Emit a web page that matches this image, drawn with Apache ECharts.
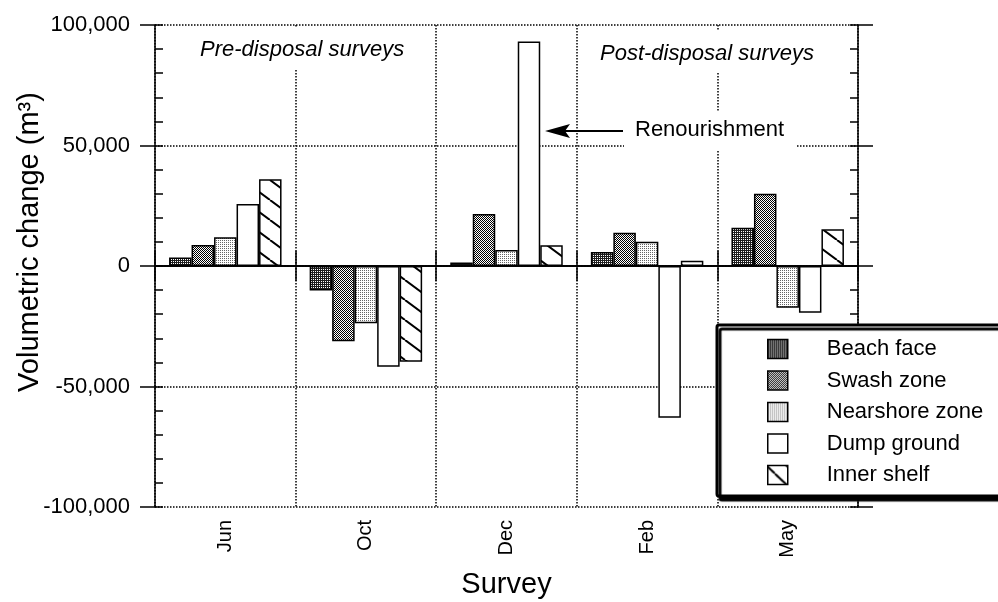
<!DOCTYPE html>
<html>
<head>
<meta charset="utf-8">
<script src="https://cdn.jsdelivr.net/npm/echarts@6/dist/echarts.min.js"></script>
<style>
  html, body { margin: 0; padding: 0; background: #fff; }
  #chart { width: 998px; height: 602px; }
</style>
</head>
<body>
<div id="chart"></div>
<script>
// survey months
var surveys = ['Jun', 'Oct', 'Dec', 'Feb', 'May'];
// volumetric change per zone, m3
var beachFace = [3500, -10200, 1500, 5800, 15900];
var swashZone = [8700, -31200, 21600, 13800, 30000];
var nearshoreZone = [11900, -23800, 6600, 10100, -17300];
var dumpGround = [25700, -41800, 93200, -63000, -19400];
var innerShelf = [36000, -39700, 8600, 2200, 15200];
var yTicks = [-100000, -50000, 0, 50000, 100000];

var FONT = '"Liberation Sans", Arial, sans-serif';

// little canvas tiles for the fill patterns
function tile(w, h, draw) {
  var c = document.createElement('canvas');
  c.width = w; c.height = h;
  var ctx = c.getContext('2d');
  draw(ctx, w, h);
  return { image: c, repeat: 'repeat' };
}
var patBeach = tile(2, 2, function (ctx) {
  ctx.fillStyle = '#1e1e1e'; ctx.fillRect(0, 0, 2, 2);
  ctx.fillStyle = '#ffffff'; ctx.fillRect(1, 1, 1, 1);
});
var patSwash = tile(2, 2, function (ctx) {
  ctx.fillStyle = '#ffffff'; ctx.fillRect(0, 0, 2, 2);
  ctx.fillStyle = '#000000'; ctx.fillRect(0, 0, 1, 1); ctx.fillRect(1, 1, 1, 1);
});
var patNear = tile(2, 2, function (ctx) {
  ctx.fillStyle = '#ffffff'; ctx.fillRect(0, 0, 2, 2);
  ctx.fillStyle = '#666666'; ctx.fillRect(0, 0, 1, 1);
});
function hatch(w, h) {
  return tile(w, h, function (ctx) {
    ctx.fillStyle = '#fff'; ctx.fillRect(0, 0, w, h);
    ctx.strokeStyle = '#000'; ctx.lineWidth = 2;
    ctx.beginPath();
    ctx.moveTo(0, 0); ctx.lineTo(w, h);
    ctx.moveTo(-w, 0); ctx.lineTo(0, h);
    ctx.moveTo(w, 0); ctx.lineTo(2 * w, h);
    ctx.stroke();
  });
}
var patInner = hatch(27, 20);
var patInnerIcon = hatch(20, 19);
patInnerIcon.x = 767; patInnerIcon.y = 464;

function bar(name, data, fill) {
  return {
    name: name, type: 'bar', data: data,
    barGap: '0%', barCategoryGap: '20%',
    itemStyle: { color: fill, borderColor: '#000', borderWidth: 1.5 },
    z: 3
  };
}

var series = [
  bar('Beach face', beachFace, patBeach),
  bar('Swash zone', swashZone, patSwash),
  bar('Nearshore zone', nearshoreZone, patNear),
  bar('Dump ground', dumpGround, '#ffffff'),
  bar('Inner shelf', innerShelf, patInner)
];
// solid zero line
series[0].markLine = {
  silent: true, symbol: 'none', label: { show: false },
  lineStyle: { color: '#000', type: 'solid', width: 1.5 },
  data: [{ yAxis: 0 }], z: 4
};

var blackLine = { show: true, lineStyle: { color: '#000', width: 1.5 } };

var myChart = echarts.init(document.getElementById('chart'));
myChart.setOption({
  animation: false,
  textStyle: { fontFamily: FONT, color: '#000' },
  grid: { left: 155, right: 140, top: 25, bottom: 95, outerBoundsMode: 'none', containLabel: false },
  legend: {
    left: 717, top: 325,
    orient: 'vertical',
    padding: [13, 20, 10, 50],
    itemWidth: 20, itemHeight: 19, itemGap: 9.5,
    backgroundColor: '#fff',
    borderColor: '#000', borderWidth: 3, borderRadius: 2,
    shadowColor: '#000', shadowBlur: 1, shadowOffsetX: 3, shadowOffsetY: 4,
    icon: 'rect',
    itemStyle: { borderColor: '#000', borderWidth: 1.5 },
    textStyle: { fontSize: 22, fontFamily: FONT, color: '#000', lineHeight: 22, padding: [0, 0, 0, 34] },
    data: [
      'Beach face', 'Swash zone', 'Nearshore zone', 'Dump ground',
      { name: 'Inner shelf', itemStyle: { color: patInnerIcon } }
    ],
    z: 10
  },
  xAxis: [
    {
      type: 'category', data: surveys, position: 'bottom',
      name: 'Survey', nameLocation: 'middle', nameGap: 63, nameMoveOverlap: false,
      nameTextStyle: { fontSize: 29, fontFamily: FONT, color: '#000' },
      axisLine: blackLine,
      axisTick: { show: true, alignWithLabel: false, length: 15, lineStyle: { color: '#000', width: 1.5 } },
      axisLabel: { rotate: 90, fontSize: 20, margin: 13, color: '#000', fontFamily: FONT },
      splitLine: { show: true, lineStyle: { color: '#000', type: 'dotted', width: 1.5 } }
    },
    {
      type: 'category', data: surveys, position: 'top',
      axisLine: blackLine,
      axisTick: { show: true, length: 15, lineStyle: { color: '#000', width: 1.5 } },
      axisLabel: { show: false }, splitLine: { show: false }
    },
    {
      type: 'category', data: surveys, position: 'top',
      axisLine: { show: false },
      axisTick: { show: true, inside: true, length: 8, lineStyle: { color: '#000', width: 1.5 } },
      axisLabel: { show: false }, splitLine: { show: false }
    }
  ],
  yAxis: [
    {
      type: 'value', min: yTicks[0], max: yTicks[yTicks.length - 1], interval: 50000,
      position: 'left',
      name: 'Volumetric change (m³)', nameLocation: 'middle', nameGap: 111, nameMoveOverlap: false,
      nameTextStyle: { fontSize: 29, fontFamily: FONT, color: '#000', padding: [0, 0, 0, 48] },
      axisLine: blackLine,
      axisTick: { show: true, length: 15, lineStyle: { color: '#000', width: 1.5 } },
      axisLabel: {
        fontSize: 22, margin: 25, color: '#000', fontFamily: FONT,
        formatter: function (v) { return v.toLocaleString('en-US'); }
      },
      splitLine: { show: true, lineStyle: { color: '#000', type: 'dotted', width: 1.5 } }
    },
    {
      type: 'value', min: -100000, max: 100000, interval: 10000, position: 'left',
      axisLine: { show: false },
      axisTick: { show: true, inside: true, length: 8, lineStyle: { color: '#000', width: 1.5 } },
      axisLabel: { show: false }, splitLine: { show: false }
    },
    {
      type: 'value', min: -100000, max: 100000, interval: 50000, position: 'right',
      axisLine: blackLine,
      axisTick: { show: true, length: 15, lineStyle: { color: '#000', width: 1.5 } },
      axisLabel: { show: false }, splitLine: { show: false }
    },
    {
      type: 'value', min: -100000, max: 100000, interval: 10000, position: 'right',
      axisLine: { show: false },
      axisTick: { show: true, inside: true, length: 8, lineStyle: { color: '#000', width: 1.5 } },
      axisLabel: { show: false }, splitLine: { show: false }
    }
  ],
  series: series,
  graphic: [
    {
      type: 'text', left: 196, top: 27, z: 1,
      style: {
        text: 'Pre-disposal surveys', font: 'italic 22px ' + FONT, fill: '#000',
        backgroundColor: '#fff', padding: [12, 4, 9, 4]
      }
    },
    {
      type: 'text', left: 596, top: 30, z: 1,
      style: {
        text: 'Post-disposal surveys', font: 'italic 22px ' + FONT, fill: '#000',
        backgroundColor: '#fff', padding: [13, 4, 8, 4]
      }
    },
    {
      type: 'text', left: 624, top: 112, z: 1,
      style: {
        text: 'Renourishment', font: '22px ' + FONT, fill: '#000',
        backgroundColor: '#fff', padding: [7, 12, 10, 11]
      }
    },
    {
      type: 'line', z: 5,
      shape: { x1: 563, y1: 131, x2: 623, y2: 131 },
      style: { stroke: '#000', lineWidth: 2 }
    },
    {
      type: 'polygon', z: 5,
      shape: { points: [[545, 131], [570, 124], [565, 131], [570, 138]] },
      style: { fill: '#000' }
    }
  ]
});
</script>
</body>
</html>
